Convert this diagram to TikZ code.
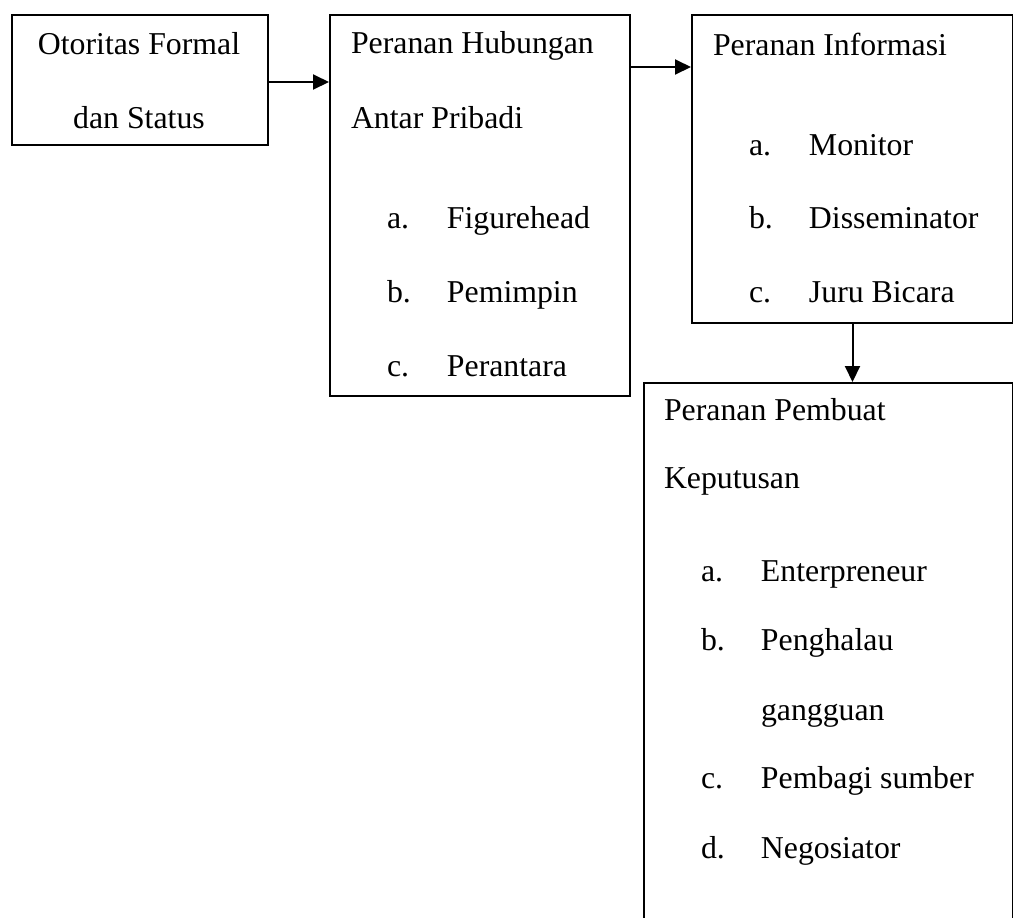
\documentclass[tikz,border=0pt]{standalone}
\usepackage{fontspec}
\setmainfont{Liberation Serif}
\usetikzlibrary{arrows.meta,positioning}

\newcommand{\itm}[2]{\makebox[30pt][l]{#1}#2}

\begin{document}
\begin{tikzpicture}[x=0.5pt,y=-0.5pt,line width=1pt,
  >={Triangle[length=8pt,width=7.5pt]},
  box/.style={draw,rectangle,inner sep=0pt,anchor=north west},
  txt/.style={inner sep=0pt,anchor=base west,font=\fontsize{15.9pt}{19pt}\selectfont}]
\path[use as bounding box,clip] (0,0) rectangle (1013,917);

% the four boxes
\node[box,minimum width=128pt,minimum height=65pt] (otoritas) at (11,14) {};
\node[box,minimum width=150pt,minimum height=190.5pt] (hubungan) at (329,14) {};
\node[box,minimum width=160.5pt,minimum height=154pt] (informasi) at (691,14) {};
\node[box,minimum width=184.5pt,minimum height=277.5pt] (keputusan) at (643,382) {};

% texts
\node[txt,anchor=base] (o1) at (139,54) {Otoritas Formal};
\node[txt,anchor=base] (o2) at (139,128) {dan Status};

\node[txt] (h1) at (350,53) {Peranan Hubungan};
\node[txt] (h2) at (350,128) {Antar Pribadi};
\node[txt] (h3) at (386,228) {\itm{a.}{Figurehead}};
\node[txt] (h4) at (386,302) {\itm{b.}{Pemimpin}};
\node[txt] (h5) at (386,376) {\itm{c.}{Perantara}};

\node[txt] (i1) at (712,55) {Peranan Informasi};
\node[txt] (i2) at (748,155) {\itm{a.}{Monitor}};
\node[txt] (i3) at (748,228) {\itm{b.}{Disseminator}};
\node[txt] (i4) at (748,302) {\itm{c.}{Juru Bicara}};

\node[txt] (k1) at (663,420) {Peranan Pembuat};
\node[txt] (k2) at (663,488) {Keputusan};
\node[txt] (k3) at (700,581) {\itm{a.}{Enterpreneur}};
\node[txt] (k4) at (700,650) {\itm{b.}{Penghalau}};
\node[txt] (k5) at (760,720) {gangguan};
\node[txt] (k6) at (700,788) {\itm{c.}{Pembagi sumber}};
\node[txt] (k7) at (700,858) {\itm{d.}{Negosiator}};

% arrows
\draw[->] ([yshift=-1pt]otoritas.east) -- ([yshift=-1pt]otoritas.east -| hubungan.west);
\draw[->] ([yshift=-26.5pt]hubungan.north east) -- ([yshift=-26.5pt]informasi.north west);
\draw[->] (informasi.south) -- (informasi.south |- keputusan.north);
\end{tikzpicture}
\end{document}
